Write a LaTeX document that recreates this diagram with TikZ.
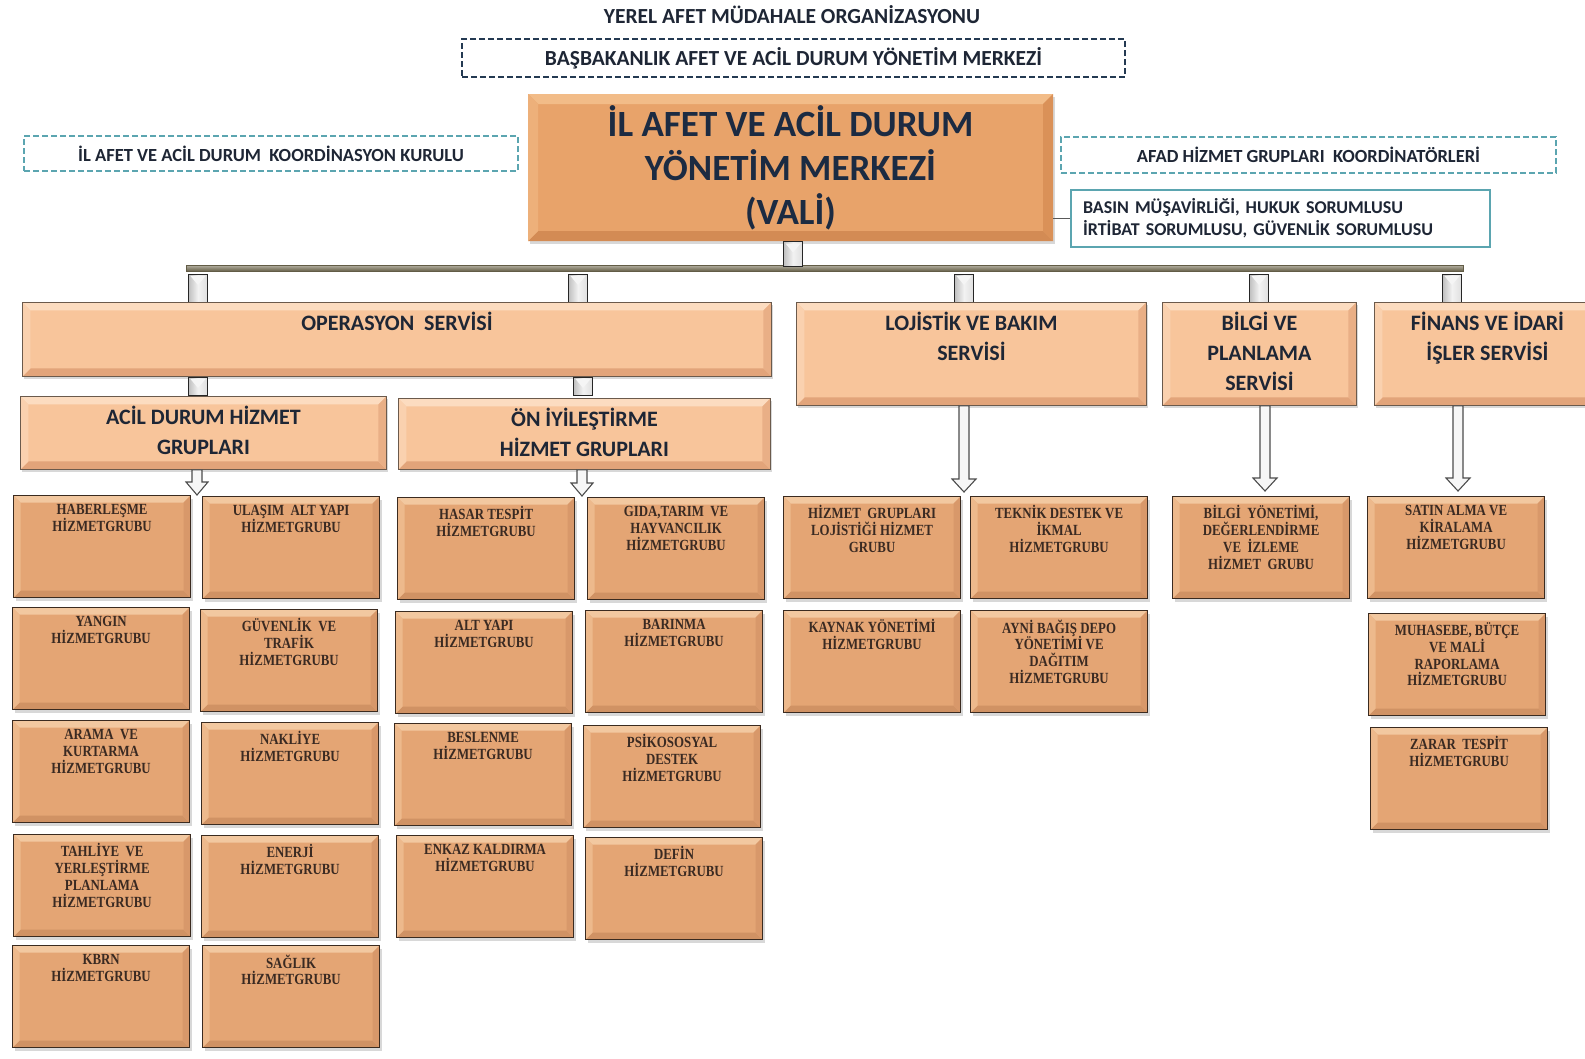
\documentclass[tikz,border=0pt]{standalone}
\usepackage{fontspec}
\setmainfont{Carlito}
\newfontfamily\boxfont[FakeStretch=0.83]{Liberation Serif}
\usetikzlibrary{shadows,calc}
\definecolor{navy}{HTML}{243A52}
\definecolor{tealc}{HTML}{5BA5B0}
\definecolor{sbase}{HTML}{E4A574}
\definecolor{stop}{HTML}{F2C8A0}
\definecolor{sleft}{HTML}{EDB98C}
\definecolor{sright}{HTML}{D8986A}
\definecolor{sbot}{HTML}{D09264}
\definecolor{sbord}{HTML}{3B2B20}
\definecolor{stext}{HTML}{3A2A22}
\definecolor{vbase}{HTML}{F8C59B}
\definecolor{vtop}{HTML}{FCDCC0}
\definecolor{vleft}{HTML}{FAD1AF}
\definecolor{vright}{HTML}{E9AF86}
\definecolor{vbot}{HTML}{E2A47A}
\definecolor{vbord}{HTML}{6B5A4C}
\definecolor{vtext}{HTML}{1E2635}
\definecolor{mbase}{HTML}{E8A36A}
\definecolor{mtop}{HTML}{F2BC88}
\definecolor{mleft}{HTML}{EDB07A}
\definecolor{mright}{HTML}{DA9158}
\definecolor{mbot}{HTML}{D38B54}
\definecolor{mtext}{HTML}{1C2B42}
\definecolor{barc}{HTML}{7A7358}
\newcommand\sbt[1]{\parbox[c][102pt][t]{177pt}{\centering\vspace*{9pt}#1\par}}
\newcommand\vbt[3]{\parbox[c][#2][t]{#1}{\centering\vspace*{10pt}#3\par}}
\newcommand\harrow[4]{% from, to, shaft half width, head half width
  \draw[harrowst] let \p1=(#1), \p2=(#2) in
    (\x1-#3,\y1) -- (\x1+#3,\y1) -- (\x1+#3,\y2+13pt) -- (\x1+#4,\y2+13pt)
    -- (\x1,\y2) -- (\x1-#4,\y2+13pt) -- (\x1-#3,\y2+13pt) -- cycle;}
\begin{document}
\begin{tikzpicture}[x=1pt,y=-1pt,
  bevel/.style n args={5}{path picture={
    \fill[#2] (path picture bounding box.north west) -- (path picture bounding box.north east)
      -- ([xshift=-#1,yshift=-#1]path picture bounding box.north east)
      -- ([xshift=#1,yshift=-#1]path picture bounding box.north west) -- cycle;
    \fill[#5] (path picture bounding box.south west) -- (path picture bounding box.south east)
      -- ([xshift=-#1,yshift=#1]path picture bounding box.south east)
      -- ([xshift=#1,yshift=#1]path picture bounding box.south west) -- cycle;
    \fill[#3] (path picture bounding box.north west) -- ([xshift=#1,yshift=-#1]path picture bounding box.north west)
      -- ([xshift=#1,yshift=#1]path picture bounding box.south west) -- (path picture bounding box.south west) -- cycle;
    \fill[#4] (path picture bounding box.north east) -- ([xshift=-#1,yshift=-#1]path picture bounding box.north east)
      -- ([xshift=-#1,yshift=#1]path picture bounding box.south east) -- (path picture bounding box.south east) -- cycle;
  }},
  shad/.style={drop shadow={shadow xshift=2pt,shadow yshift=-3pt,opacity=0.3}},
  sbox/.style={rectangle, draw=sbord, line width=1.2pt, fill=sbase, minimum width=177, minimum height=102,
    inner sep=0pt, anchor=north west, shad, bevel={7pt}{stop}{sleft}{sright}{sbot},
    font=\fontsize{15.5}{16.8}\selectfont\boxfont\bfseries, text=stext},
  svc/.style={rectangle, draw=vbord, line width=0.9pt, fill=vbase, inner sep=0pt, anchor=north west, shad,
    bevel={8pt}{vtop}{vleft}{vright}{vbot}, font=\fontsize{22}{30}\selectfont\bfseries, text=vtext},
  mainbox/.style={rectangle, fill=mbase, inner sep=0pt, minimum width=525, minimum height=147, shad,
    bevel={10pt}{mtop}{mleft}{mright}{mbot}, align=center, font=\fontsize{37}{44}\selectfont\bfseries, text=mtext},
  dashbox/.style={rectangle, draw, dash pattern=on 6pt off 3pt, line width=2.2pt, inner sep=0pt, font=\bfseries, text=vtext},
  conn/.style={rectangle, draw=gray!30!black, line width=1pt, left color=gray!50, right color=gray!25, middle color=white!90!gray,
    minimum width=19, inner sep=0pt,
    path picture={\fill[white!92!gray] ([xshift=2pt,yshift=-2pt]path picture bounding box.north west)
      -- ([xshift=-2pt,yshift=-2pt]path picture bounding box.north east)
      -- ([yshift=-11pt]path picture bounding box.north) -- cycle;}},
  harrowst/.style={fill=white!93!gray, draw=gray!60!black, line width=1.1pt, line join=miter}
]
\useasboundingbox[fill=white] (0,0) rectangle (1585,1058);

% title and top boxes
\node[font=\fontsize{21.5}{24}\selectfont\bfseries, text=vtext] (title) at (792,15) {YEREL AFET MÜDAHALE ORGANİZASYONU};
\node[dashbox, draw=navy, minimum width=663, minimum height=38, font=\fontsize{21.5}{24}\selectfont\bfseries] (bas) at (793.5,58) {BAŞBAKANLIK AFET VE ACİL DURUM YÖNETİM MERKEZİ};
\node[dashbox, draw=tealc, minimum width=494, minimum height=35, font=\fontsize{18.5}{20}\selectfont\bfseries] (kur) at (271,153.5) {İL AFET VE ACİL DURUM\ \ KOORDİNASYON KURULU};
\node[dashbox, draw=tealc, minimum width=495, minimum height=36, font=\fontsize{18.5}{20}\selectfont\bfseries] (afad) at (1308.5,155) {AFAD HİZMET GRUPLARI\ \ KOORDİNATÖRLERİ};

\node[mainbox] (main) at (790.5,167.5) {İL AFET VE ACİL DURUM\\YÖNETİM MERKEZİ\\(VALİ)};
\node[rectangle, draw=tealc, line width=2pt, minimum width=419, minimum height=57, inner xsep=12pt, text width=395,
  align=left, font=\fontsize{18}{22}\selectfont\bfseries, text=vtext] (basin) at (1280.5,218.5)
  {BASIN MÜŞAVİRLİĞİ, HUKUK SORUMLUSU\\İRTİBAT SORUMLUSU, GÜVENLİK SORUMLUSU};
\draw[gray!70!black, line width=1pt] (main.east |- basin.west) -- (basin.west);

% bar and connectors
\node[rectangle, minimum width=1277, minimum height=6, inner sep=0pt, top color=barc!55, bottom color=barc!85!black, draw=barc!80!black, line width=0.5pt] (bar) at (824.5,268) {};
\node[conn, minimum height=25] (cm) at (793,254) {};
\node[conn, minimum height=28] (c1) at (198,288) {};
\node[conn, minimum height=28] (c2) at (578,288) {};
\node[conn, minimum height=28] (c3) at (964,288) {};
\node[conn, minimum height=28] (c4) at (1259,288) {};
\node[conn, minimum height=28] (c5) at (1452,288) {};

% services
\node[svc, minimum width=749, minimum height=74] (ops) at (22,302) {\vbt{749pt}{74pt}{OPERASYON\ \ SERVİSİ}};
\node[svc, minimum width=350, minimum height=103] (loj) at (796,302) {\vbt{350pt}{103pt}{LOJİSTİK VE BAKIM\\SERVİSİ}};
\node[svc, minimum width=194, minimum height=103] (bilgi) at (1162,302) {\vbt{194pt}{103pt}{BİLGİ VE\\PLANLAMA\\SERVİSİ}};
\node[svc, minimum width=226, minimum height=103] (fin) at (1374,302) {\vbt{196pt}{103pt}{FİNANS VE İDARİ\\İŞLER SERVİSİ}\hspace{30pt}};

\node[conn, minimum height=18] (c6) at (198,386) {};
\node[conn, minimum height=18] (c7) at (583,386) {};
\node[svc, minimum width=366, minimum height=73] (acil) at (20,396) {\vbt{366pt}{73pt}{ACİL DURUM HİZMET\\GRUPLARI}};
\node[svc, minimum width=372, minimum height=71] (on) at (398,398) {\vbt{372pt}{71pt}{ÖN İYİLEŞTİRME\\HİZMET GRUPLARI}};

% service group boxes
\node[sbox] (a1) at (13,495) {\sbt{HABERLEŞME\\HİZMETGRUBU}};
\node[sbox] (a2) at (12,607) {\sbt{YANGIN\\HİZMETGRUBU}};
\node[sbox] (a3) at (12,720) {\sbt{ARAMA\ \ VE\\KURTARMA\\HİZMETGRUBU}};
\node[sbox] (a4) at (13,834) {\sbt{TAHLİYE\ \ VE\\YERLEŞTİRME\\PLANLAMA\\HİZMETGRUBU}};
\node[sbox] (a5) at (12,945) {\sbt{KBRN\\HİZMETGRUBU}};

\node[sbox] (b1) at (202,496) {\sbt{ULAŞIM\ \ ALT YAPI\\HİZMETGRUBU}};
\node[sbox] (b2) at (200,609) {\sbt{GÜVENLİK\ \ VE\\TRAFİK\\HİZMETGRUBU}};
\node[sbox] (b3) at (201,722) {\sbt{NAKLİYE\\HİZMETGRUBU}};
\node[sbox] (b4) at (201,835) {\sbt{ENERJİ\\HİZMETGRUBU}};
\node[sbox] (b5) at (202,945) {\sbt{SAĞLIK\\HİZMETGRUBU}};

\node[sbox] (d1) at (397,497) {\sbt{HASAR TESPİT\\HİZMETGRUBU}};
\node[sbox] (d2) at (395,611) {\sbt{ALT YAPI\\HİZMETGRUBU}};
\node[sbox] (d3) at (394,723) {\sbt{BESLENME\\HİZMETGRUBU}};
\node[sbox] (d4) at (396,835) {\sbt{ENKAZ KALDIRMA\\HİZMETGRUBU}};

\node[sbox] (e1) at (587,497) {\sbt{GIDA,TARIM\ \ VE\\HAYVANCILIK\\HİZMETGRUBU}};
\node[sbox] (e2) at (585,610) {\sbt{BARINMA\\HİZMETGRUBU}};
\node[sbox] (e3) at (583,725) {\sbt{PSİKOSOSYAL\\DESTEK\\HİZMETGRUBU}};
\node[sbox] (e4) at (585,837) {\sbt{DEFİN\\HİZMETGRUBU}};

\node[sbox] (f1) at (783,496) {\sbt{HİZMET\ \ GRUPLARI\\LOJİSTİĞİ HİZMET\\GRUBU}};
\node[sbox] (f2) at (783,610) {\sbt{KAYNAK YÖNETİMİ\\HİZMETGRUBU}};
\node[sbox] (g1) at (970,496) {\sbt{TEKNİK DESTEK VE\\İKMAL\\HİZMETGRUBU}};
\node[sbox] (g2) at (970,610) {\sbt{AYNİ BAĞIŞ DEPO\\YÖNETİMİ VE\\DAĞITIM\\HİZMETGRUBU}};

\node[sbox] (h1) at (1172,496) {\sbt{BİLGİ\ \ YÖNETİMİ,\\DEĞERLENDİRME\\VE\ \ İZLEME\\HİZMET\ \ GRUBU}};

\node[sbox] (k1) at (1367,496) {\sbt{SATIN ALMA VE\\KİRALAMA\\HİZMETGRUBU}};
\node[sbox] (k2) at (1368,613) {\sbt{MUHASEBE, BÜTÇE\\VE MALİ\\RAPORLAMA\\HİZMETGRUBU}};
\node[sbox] (k3) at (1370,727) {\sbt{ZARAR\ \ TESPİT\\HİZMETGRUBU}};

% hollow arrows
\coordinate (ta) at (197,495);
\coordinate (tb) at (582,496);
\coordinate (tc) at (964,492);
\coordinate (td) at (1265,491);
\coordinate (te) at (1458,491);
\harrow{ta |- acil.south}{ta}{5pt}{11pt}
\harrow{tb |- on.south}{tb}{5pt}{11pt}
\harrow{tc |- loj.south}{tc}{5pt}{12pt}
\harrow{td |- bilgi.south}{td}{5pt}{12pt}
\harrow{te |- fin.south}{te}{5pt}{12pt}
\end{tikzpicture}
\end{document}
